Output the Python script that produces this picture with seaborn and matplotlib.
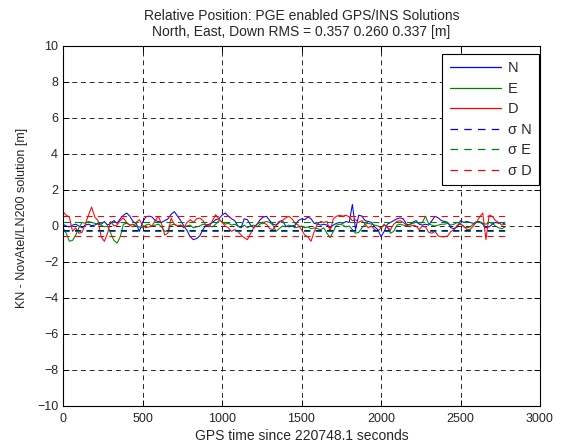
import numpy as np
import pandas as pd
import matplotlib
matplotlib.use("Agg")
import matplotlib.pyplot as plt
from matplotlib.lines import Line2D
import seaborn as sns

# ---- data ----
time_s = list(range(0, 2781, 20))

north = [
    0.10, 0.00, -0.05, 0.05, 0.10, 0.00, -0.10, 0.05, 0.10, 0.02,
    0.05, 0.15, 0.10, 0.25, 0.05, 0.15, 0.30, 0.15, 0.40, 0.60,
    0.72, 0.55, 0.25, 0.15, -0.30, 0.20, 0.50, 0.55, 0.50, 0.30,
    0.25, 0.20, 0.30, 0.40, 0.65, 0.80, 0.55, 0.30, 0.00, -0.25,
    -0.60, -0.76, -0.70, -0.55, -0.20, 0.05, 0.10, 0.20, 0.35, 0.40,
    0.60, 0.72, 0.55, 0.40, 0.30, 0.00, -0.10, 0.40, 0.35, 0.05,
    -0.10, 0.10, 0.35, 0.50, 0.54, 0.30, 0.10, 0.05, 0.25, 0.30,
    0.00, -0.05, 0.00, 0.05, 0.30, 0.40, 0.35, 0.50, 0.40, 0.15,
    0.10, 0.05, 0.10, 0.05, -0.10, 0.05, 0.15, 0.20, 0.15, 0.25,
    0.20, 1.20, -0.20, 0.60, 0.55, 0.30, 0.25, 0.20, -0.05, -0.20,
    -0.60, -0.30, 0.10, 0.20, 0.30, 0.40, 0.45, 0.40, 0.10, 0.05,
    0.20, 0.30, 0.10, 0.05, 0.10, 0.05, 0.30, 0.54, 0.45, 0.30,
    0.25, 0.20, -0.10, -0.15, -0.05, 0.30, 0.20, 0.25, 0.20, 0.15,
    0.20, 0.25, 0.10, -0.10, -0.05, 0.10, 0.20, 0.15, 0.20, 0.10,
]

east = [
    -0.10, -0.40, -0.85, -0.80, -0.50, -0.10, 0.20, 0.15, 0.25, 0.20,
    0.15, 0.10, 0.05, -0.05, 0.00, -0.40, -0.80, -0.95, -0.60, 0.10,
    0.15, 0.05, 0.10, 0.00, -0.05, -0.10, 0.05, 0.10, 0.00, 0.05,
    0.10, -0.05, -0.30, -0.25, 0.05, 0.10, 0.00, 0.05, -0.05, 0.00,
    0.05, -0.10, -0.05, 0.00, 0.10, 0.05, 0.00, -0.05, 0.10, 0.30,
    0.25, 0.10, 0.15, 0.05, 0.10, 0.00, -0.10, 0.05, -0.10, 0.00,
    0.05, -0.05, 0.10, 0.20, 0.25, 0.20, 0.05, -0.30, -0.15, 0.00,
    -0.05, 0.05, 0.00, -0.10, -0.05, 0.00, -0.10, -0.05, -0.15, -0.10,
    -0.15, -0.20, -0.10, -0.40, -0.65, -0.30, 0.05, 0.10, 0.05, -0.05,
    0.00, -0.20, -0.40, -0.35, -0.10, 0.10, 0.15, 0.10, 0.05, 0.00,
    -0.10, 0.05, -0.05, -0.40, -0.30, 0.05, 0.10, 0.05, 0.00, 0.10,
    0.15, 0.20, 0.15, 0.20, 0.55, 0.10, 0.05, 0.00, 0.05, 0.10,
    0.10, 0.15, 0.05, 0.10, 0.20, 0.15, -0.05, -0.10, -0.05, 0.10,
    0.25, 0.20, 0.15, 0.10, 0.20, 0.15, 0.00, -0.10, -0.15, -0.05,
]

down = [
    0.80, 0.60, 0.50, -0.30, -0.10, -0.40, -0.35, 0.10, 0.60, 1.05,
    0.50, 0.30, -0.60, -0.85, -0.40, 0.25, 0.00, 0.05, 0.30, 0.45,
    0.20, 0.05, -0.05, 0.20, 0.35, 0.05, -0.10, -0.05, 0.00, 0.30,
    0.54, 0.10, -0.50, -0.40, 0.44, 0.10, 0.00, 0.05, -0.10, 0.20,
    0.35, 0.20, 0.40, 0.44, 0.30, 0.05, -0.05, 0.30, 0.63, 0.40,
    0.20, 0.00, -0.10, -0.30, -0.20, -0.30, -0.50, -0.65, -0.76, -0.40,
    -0.10, 0.10, 0.20, 0.15, 0.10, -0.15, -0.20, 0.00, 0.20, 0.30,
    0.45, 0.54, 0.40, 0.15, 0.05, -0.20, -0.50, -0.60, -0.85, -0.30,
    0.10, 0.25, 0.20, 0.25, -0.30, 0.40, 0.54, 0.60, 0.55, 0.60,
    0.50, 0.30, 0.35, 0.20, 0.30, 0.10, -0.10, 0.00, -0.20, -0.30,
    -0.10, 0.10, -0.10, -0.20, 0.10, 0.25, 0.30, 0.20, 0.05, -0.05,
    0.05, 0.00, -0.20, 0.00, -0.05, -0.35, -0.40, -0.30, -0.55, -0.60,
    -0.60, -0.55, -0.30, -0.20, 0.05, 0.10, 0.00, -0.20, -0.20, 0.00,
    0.20, 0.50, 0.72, -0.76, 0.60, 0.54, 0.30, 0.20, 0.05, 0.10,
]

sigma_time = [0, 2780]
sigma_north = [0.20, 0.20]
sigma_east = [0.25, 0.25]
sigma_down = [0.55, 0.55]

series_labels = ["N", "E", "D"]
sigma_labels = ["\u03c3 N", "\u03c3 E", "\u03c3 D"]
colors = ["#0000ff", "#008000", "#ff0000"]

title_lines = ["Relative Position: PGE enabled GPS/INS Solutions",
               "North, East, Down RMS = 0.357 0.260 0.337 [m]"]
xlabel = "GPS time since 220748.1 seconds"
ylabel = "KN - NovAtel/LN200 solution [m]"
xticks = [0, 500, 1000, 1500, 2000, 2500, 3000]
yticks = [-10, -8, -6, -4, -2, 0, 2, 4, 6, 8, 10]

# ---- plot ----
sns.set_theme(style="white")
plt.rcParams["font.family"] = ["Liberation Sans", "DejaVu Sans"]
plt.rcParams["font.size"] = 10

fig = plt.figure(figsize=(5.66, 4.47), dpi=100)
ax = fig.add_axes([63 / 566, 41 / 447, 477 / 566, 360 / 447])

for vals, col in zip([north, east, down], colors):
    df = pd.DataFrame({"t": time_s, "v": vals})
    sns.lineplot(data=df, x="t", y="v", color=col, linewidth=0.75,
                 estimator=None, sort=False, ax=ax, legend=False)

dash = (0, (6, 5))
for sig, col in zip([sigma_north, sigma_east, sigma_down], colors):
    dfp = pd.DataFrame({"t": sigma_time, "v": sig})
    dfm = pd.DataFrame({"t": sigma_time, "v": [-s for s in sig]})
    for d in (dfp, dfm):
        sns.lineplot(data=d, x="t", y="v", color=col, linewidth=0.75,
                     linestyle=dash, estimator=None, ax=ax, legend=False)

ax.set_xlim(0, 3000)
ax.set_ylim(-10, 10)
ax.set_xticks(xticks)
ax.set_yticks(yticks)
ax.grid(True, color="0.15", linestyle=(0, (5, 4)), linewidth=0.7)
ax.set_axisbelow(True)
for sp in ax.spines.values():
    sp.set_color("black")
    sp.set_linewidth(0.8)
    sp.set_visible(True)
ax.tick_params(direction="in", length=4, width=0.7, color="black",
               top=True, right=True, bottom=True, left=True, labelsize=9)
ax.tick_params(axis="y", pad=3.5)
ax.tick_params(axis="x", pad=5)

ax.set_xlabel(xlabel, fontsize=10, labelpad=3)
ax.set_ylabel(ylabel, fontsize=9)
ax.yaxis.set_label_coords(-0.073, 0.522)
ax.set_title("\n".join(title_lines), fontsize=10, pad=7)

handles = [Line2D([], [], color=c, linewidth=0.9) for c in colors] + \
          [Line2D([], [], color=c, linewidth=0.9, linestyle=dash) for c in colors]
labels = series_labels + sigma_labels
leg = ax.legend(handles, labels, loc="upper right", bbox_to_anchor=(0.998, 0.978),
                borderaxespad=0, handlelength=3.5, handletextpad=0.5,
                labelspacing=0.45, fancybox=False, framealpha=1,
                edgecolor="black", fontsize=10.5, borderpad=0.5)
leg.get_frame().set_linewidth(0.8)

fig.savefig("out.png", dpi=100, facecolor="white")
